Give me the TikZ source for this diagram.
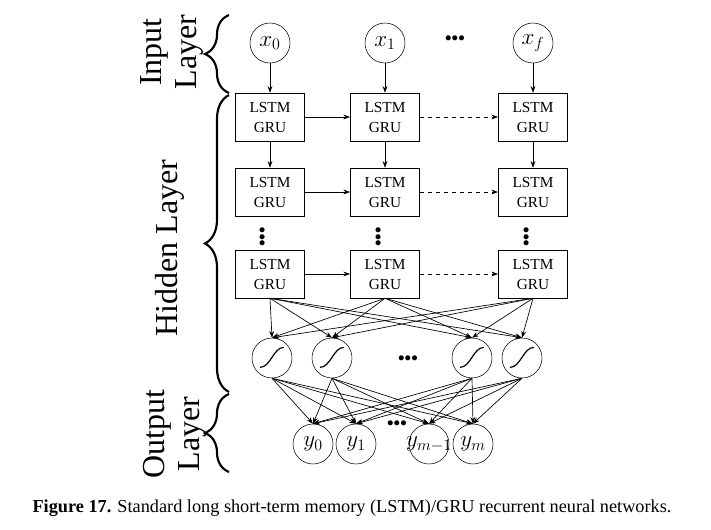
\documentclass[tikz,border=0pt]{standalone}
\usepackage{fontspec}
\setmainfont{Liberation Serif}
\usepackage{tikz}
\usetikzlibrary{arrows.meta,decorations.pathreplacing,calc}

\tikzset{
neuron/.style={circle, draw=black, minimum size=30pt, inner sep=0pt, font=\fontsize{18}{20}\selectfont},
cell/.style={rectangle, draw=black, minimum width=52pt, minimum height=36pt, inner sep=1pt, align=center, font=\fontsize{11.5}{15}\selectfont},
sigmoid/.style={neuron, path picture={\draw[line width=0.9pt] ($(path picture bounding box.center)+(-9pt,-7pt)$) .. controls +(8pt,0pt) and +(-8pt,0pt) .. ($(path picture bounding box.center)+(9pt,8pt)$);}},
link/.style={-{Stealth[length=5pt,width=3.6pt]}, line width=0.5pt},
layerbrace/.style={decorate, decoration={brace, amplitude=18pt}, line width=1.6pt},
layername/.style={rotate=90, align=center, font=\fontsize{24}{26}\selectfont},
dotrow/.style={inner sep=0pt, font=\fontsize{14}{14}\selectfont\bfseries}
}

\begin{document}
\begin{tikzpicture}[x=0.75pt,y=-0.75pt]
\useasboundingbox (0,0) rectangle (711,529);
% input layer
\node[neuron] (x0) at (270,43) {$x_0$};
\node[neuron] (x1) at (385,43) {$x_1$};
\node[neuron] (xf) at (533,43) {$x_f$};
\node[dotrow] (xdots) at (455,40) {•••};
% hidden layer
\node[cell] (c11) at (270,117) {LSTM\\GRU}; \node[cell] (c12) at (385,117) {LSTM\\GRU}; \node[cell] (c13) at (533,117) {LSTM\\GRU};
\node[cell] (c21) at (270,192) {LSTM\\GRU}; \node[cell] (c22) at (385,192) {LSTM\\GRU}; \node[cell] (c23) at (533,192) {LSTM\\GRU};
\node[cell] (c31) at (270,274) {LSTM\\GRU}; \node[cell] (c32) at (385,274) {LSTM\\GRU}; \node[cell] (c33) at (533,274) {LSTM\\GRU};
\node[dotrow,rotate=90] (v1) at (264,237) {•••};
\node[dotrow,rotate=90] (v2) at (380,237) {•••};
\node[dotrow,rotate=90] (v3) at (528,237) {•••};
\node[sigmoid] (s1) at (272,358) {}; \node[sigmoid] (s2) at (332,358) {};
\node[sigmoid] (s3) at (472,358) {}; \node[sigmoid] (s4) at (522,358) {};
\node[dotrow] (sdots) at (408,360) {•••};
% output layer
\node[neuron] (y0) at (313,444) {$y_0$};
\node[neuron] (y1) at (356,444) {$y_1$};
\node[neuron] (ym1) at (429,444) {\makebox[0pt]{$y_{m-1}$}};
\node[neuron] (ym) at (473,444) {$y_m$};
\node[dotrow] (ydots) at (397,425) {•••};
% connections
\draw[link] (x0)--(c11); \draw[link] (x1)--(c12); \draw[link] (xf)--(c13);
\draw[link] (c11)--(c21); \draw[link] (c12)--(c22); \draw[link] (c13)--(c23);
\draw[link] (c11)--(c12); \draw[link,dashed] (c12)--(c13);
\draw[link] (c21)--(c22); \draw[link,dashed] (c22)--(c23);
\draw[link] (c31)--(c32); \draw[link,dashed] (c32)--(c33);
\foreach \a in {c31,c32,c33} \foreach \b in {s1,s2,s3,s4} \draw[link] (\a.south)--(\b.north);
\foreach \a in {s1,s2,s3,s4} \foreach \b in {y0,y1,ym1,ym} \draw[link] (\a.south)--(\b.north);
% layer braces
\coordinate (in1) at (229,93); \coordinate (in2) at (229,15);
\coordinate (hid1) at (229,392); \coordinate (hid2) at (229,95);
\coordinate (out1) at (229,472); \coordinate (out2) at (229,394);
\draw[layerbrace] (in1)--(in2);
\draw[layerbrace] (hid1)--(hid2);
\draw[layerbrace] (out1)--(out2);
\node[layername] (inlabel) at (172,52) {Input\\Layer};
\node[layername] (hidlabel) at (170,248) {Hidden Layer};
\node[layername] (outlabel) at (175,434) {Output\\Layer};
% caption
\node (caption) at (352,508) {\fontsize{13.7}{16}\selectfont\textbf{Figure 17.} Standard long short-term memory (LSTM)/GRU recurrent neural networks.};
\end{tikzpicture}
\end{document}
